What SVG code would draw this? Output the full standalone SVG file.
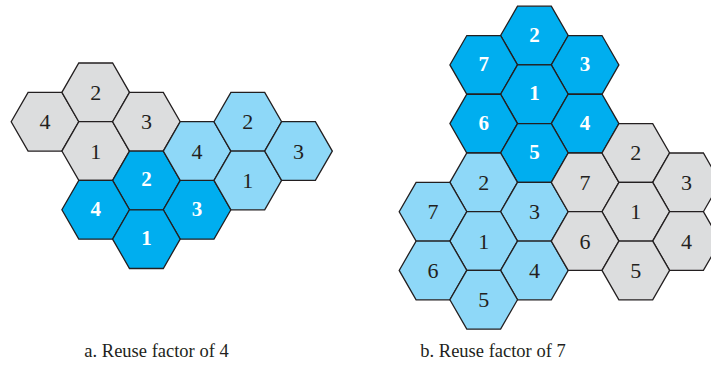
<svg xmlns="http://www.w3.org/2000/svg" xmlns:xlink="http://www.w3.org/1999/xlink" width="711" height="368" viewBox="0 0 711 368">
<defs>
<polygon id="hex" points="33.8,0 16.9,29.36 -16.9,29.36 -33.8,0 -16.9,-29.36 16.9,-29.36"/>
</defs>
<style>
.gray{fill:#DCDDDE}
.light{fill:#8ED8F8}
.dark{fill:#00AEEF}
use{stroke:#231F20;stroke-width:1.3;stroke-linejoin:miter}
text{font-family:"Liberation Serif","Times New Roman",serif;font-size:22px;text-anchor:middle}
.t{fill:#231F20}
.w{fill:#FFFFFF;font-weight:bold;font-size:21px}
.cap{fill:#231F20;font-size:18.5px}
</style>
<rect width="711" height="368" fill="#FFFFFF"/>
<g id="part-a">
<g id="a-gray-4"><use href="#hex" class="gray" x="45" y="121.7"/><text class="t" x="45" y="129.2">4</text></g>
<g id="a-gray-2"><use href="#hex" class="gray" x="95.7" y="92.34"/><text class="t" x="95.7" y="99.84">2</text></g>
<g id="a-gray-1"><use href="#hex" class="gray" x="95.7" y="151.06"/><text class="t" x="95.7" y="158.56">1</text></g>
<g id="a-gray-3"><use href="#hex" class="gray" x="146.4" y="121.7"/><text class="t" x="146.4" y="129.2">3</text></g>
<g id="a-dark-2"><use href="#hex" class="dark" x="146.4" y="180.42"/><text class="w" x="146.4" y="186.42">2</text></g>
<g id="a-dark-4"><use href="#hex" class="dark" x="95.7" y="209.78"/><text class="w" x="95.7" y="215.78">4</text></g>
<g id="a-dark-3"><use href="#hex" class="dark" x="197.1" y="209.78"/><text class="w" x="197.1" y="215.78">3</text></g>
<g id="a-dark-1"><use href="#hex" class="dark" x="146.4" y="239.14"/><text class="w" x="146.4" y="245.14">1</text></g>
<g id="a-light-4"><use href="#hex" class="light" x="197.1" y="151.06"/><text class="t" x="197.1" y="158.56">4</text></g>
<g id="a-light-2"><use href="#hex" class="light" x="247.8" y="121.7"/><text class="t" x="247.8" y="129.2">2</text></g>
<g id="a-light-1"><use href="#hex" class="light" x="247.8" y="180.42"/><text class="t" x="247.8" y="187.92">1</text></g>
<g id="a-light-3"><use href="#hex" class="light" x="298.5" y="151.06"/><text class="t" x="298.5" y="158.56">3</text></g>
</g>
<g id="part-b">
<g id="b-dark-2"><use href="#hex" class="dark" x="534.4" y="35.54"/><text class="w" x="534.4" y="41.54">2</text></g>
<g id="b-dark-7"><use href="#hex" class="dark" x="483.7" y="64.9"/><text class="w" x="483.7" y="70.9">7</text></g>
<g id="b-dark-3"><use href="#hex" class="dark" x="585.1" y="64.9"/><text class="w" x="585.1" y="70.9">3</text></g>
<g id="b-dark-1"><use href="#hex" class="dark" x="534.4" y="94.26"/><text class="w" x="534.4" y="100.26">1</text></g>
<g id="b-dark-6"><use href="#hex" class="dark" x="483.7" y="123.62"/><text class="w" x="483.7" y="129.62">6</text></g>
<g id="b-dark-4"><use href="#hex" class="dark" x="585.1" y="123.62"/><text class="w" x="585.1" y="129.62">4</text></g>
<g id="b-dark-5"><use href="#hex" class="dark" x="534.4" y="152.98"/><text class="w" x="534.4" y="158.98">5</text></g>
<g id="b-light-2"><use href="#hex" class="light" x="483.7" y="182.34"/><text class="t" x="483.7" y="189.84">2</text></g>
<g id="b-light-7"><use href="#hex" class="light" x="433" y="211.7"/><text class="t" x="433" y="219.2">7</text></g>
<g id="b-light-3"><use href="#hex" class="light" x="534.4" y="211.7"/><text class="t" x="534.4" y="219.2">3</text></g>
<g id="b-light-1"><use href="#hex" class="light" x="483.7" y="241.06"/><text class="t" x="483.7" y="248.56">1</text></g>
<g id="b-light-6"><use href="#hex" class="light" x="433" y="270.42"/><text class="t" x="433" y="277.92">6</text></g>
<g id="b-light-4"><use href="#hex" class="light" x="534.4" y="270.42"/><text class="t" x="534.4" y="277.92">4</text></g>
<g id="b-light-5"><use href="#hex" class="light" x="483.7" y="299.78"/><text class="t" x="483.7" y="307.28">5</text></g>
<g id="b-gray-7"><use href="#hex" class="gray" x="585.1" y="182.34"/><text class="t" x="585.1" y="189.84">7</text></g>
<g id="b-gray-2"><use href="#hex" class="gray" x="635.8" y="152.98"/><text class="t" x="635.8" y="160.48">2</text></g>
<g id="b-gray-3"><use href="#hex" class="gray" x="686.5" y="182.34"/><text class="t" x="686.5" y="189.84">3</text></g>
<g id="b-gray-1"><use href="#hex" class="gray" x="635.8" y="211.7"/><text class="t" x="635.8" y="219.2">1</text></g>
<g id="b-gray-6"><use href="#hex" class="gray" x="585.1" y="241.06"/><text class="t" x="585.1" y="248.56">6</text></g>
<g id="b-gray-4"><use href="#hex" class="gray" x="686.5" y="241.06"/><text class="t" x="686.5" y="248.56">4</text></g>
<g id="b-gray-5"><use href="#hex" class="gray" x="635.8" y="270.42"/><text class="t" x="635.8" y="277.92">5</text></g>
</g>
<g id="connectors"/>
<g id="captions">
<text class="cap" x="156.5" y="356.5">a. Reuse factor of 4</text>
<text class="cap" x="493" y="356.5">b. Reuse factor of 7</text>
</g>
</svg>
